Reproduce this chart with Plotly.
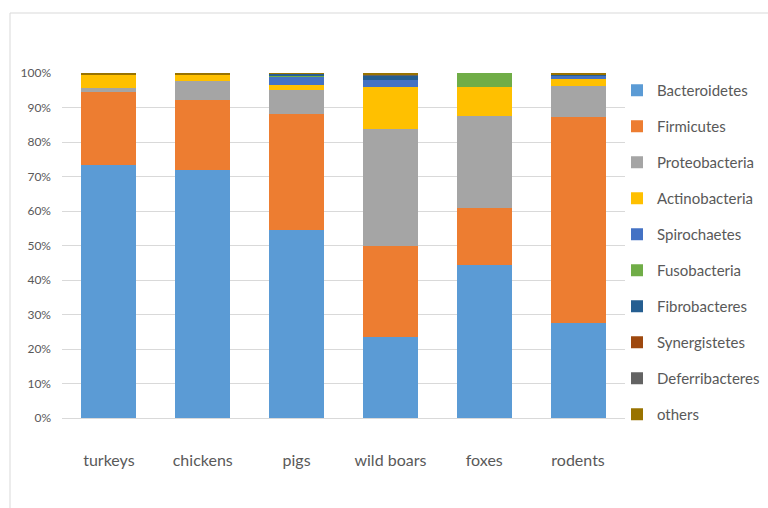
import plotly.graph_objects as go

# Host animals (x-axis categories)
hosts = ["turkeys", "chickens", "pigs", "wild boars", "foxes", "rodents"]

# Relative abundance (%) of each phylum per host
bacteroidetes   = [73.4, 71.9, 54.4, 23.5, 44.4, 27.4]
firmicutes      = [21.0, 20.3, 33.6, 26.3, 16.6, 59.9]
proteobacteria  = [1.2, 5.6, 7.0, 34.0, 26.4, 9.0]
actinobacteria  = [3.8, 1.5, 1.4, 12.0, 8.6, 1.9]
spirochaetes    = [0.0, 0.0, 2.6, 2.2, 0.0, 0.8]
fusobacteria    = [0.0, 0.0, 0.4, 0.0, 4.0, 0.0]
fibrobacteres   = [0.0, 0.0, 0.4, 1.3, 0.0, 0.6]
synergistetes   = [0.0, 0.0, 0.0, 0.0, 0.0, 0.0]
deferribacteres = [0.0, 0.0, 0.0, 0.3, 0.0, 0.0]
others          = [0.6, 0.7, 0.2, 0.4, 0.0, 0.4]

y_ticks = [0, 10, 20, 30, 40, 50, 60, 70, 80, 90, 100]
y_tick_labels = [f"{v}%" for v in y_ticks]

series = [
    ("Bacteroidetes", bacteroidetes, "#5b9bd5"),
    ("Firmicutes", firmicutes, "#ed7d31"),
    ("Proteobacteria", proteobacteria, "#a5a5a5"),
    ("Actinobacteria", actinobacteria, "#ffc000"),
    ("Spirochaetes", spirochaetes, "#4472c4"),
    ("Fusobacteria", fusobacteria, "#70ad47"),
    ("Fibrobacteres", fibrobacteres, "#255e91"),
    ("Synergistetes", synergistetes, "#9e480e"),
    ("Deferribacteres", deferribacteres, "#636363"),
    ("others", others, "#997300"),
]

fig = go.Figure()
for name, vals, color in series:
    fig.add_trace(go.Bar(
        x=hosts, y=vals, name=name, legendgroup=name,
        marker=dict(color=color, line=dict(width=0)),
    ))

L, R, T, B = 62, 143, 73, 90
W, H = 768, 508
pw, ph = W - L - R, H - T - B

fig.update_layout(
    width=W, height=H,
    barmode="stack", bargap=0.415,
    margin=dict(l=L, r=R, t=T, b=B, autoexpand=False),
    paper_bgcolor="white", plot_bgcolor="white",
    font=dict(family="Lato, Open Sans, sans-serif", color="#595959"),
    showlegend=True,
    legend=dict(
        x=(617 - L) / pw, xanchor="left",
        y=1 - (74 - T) / ph, yanchor="top",
        font=dict(size=15, color="#595959"),
        traceorder="grouped", tracegroupgap=13.5,
        itemwidth=30, bgcolor="rgba(0,0,0,0)",
        maxheight=480,
    ),
    xaxis=dict(
        showgrid=False, showline=True, linecolor="#d9d9d9", linewidth=1,
        ticks="", tickfont=dict(size=16, color="#595959"),
        ticklabelstandoff=28,
    ),
    yaxis=dict(
        range=[0, 100], tickvals=y_ticks, ticktext=y_tick_labels,
        showgrid=True, gridcolor="#d9d9d9", gridwidth=1,
        zeroline=False, showline=False, ticks="",
        tickfont=dict(size=12, color="#595959"),
        ticklabelstandoff=10,
    ),
    shapes=[dict(
        type="rect", xref="paper", yref="paper",
        x0=(10 - L) / pw, x1=(W + 5 - L) / pw,
        y0=-(B + 5) / ph, y1=1 + (T - 13) / ph,
        line=dict(color="#d9d9d9", width=1), fillcolor="rgba(0,0,0,0)",
        layer="below",
    )],
)

fig.write_html("out.html")
